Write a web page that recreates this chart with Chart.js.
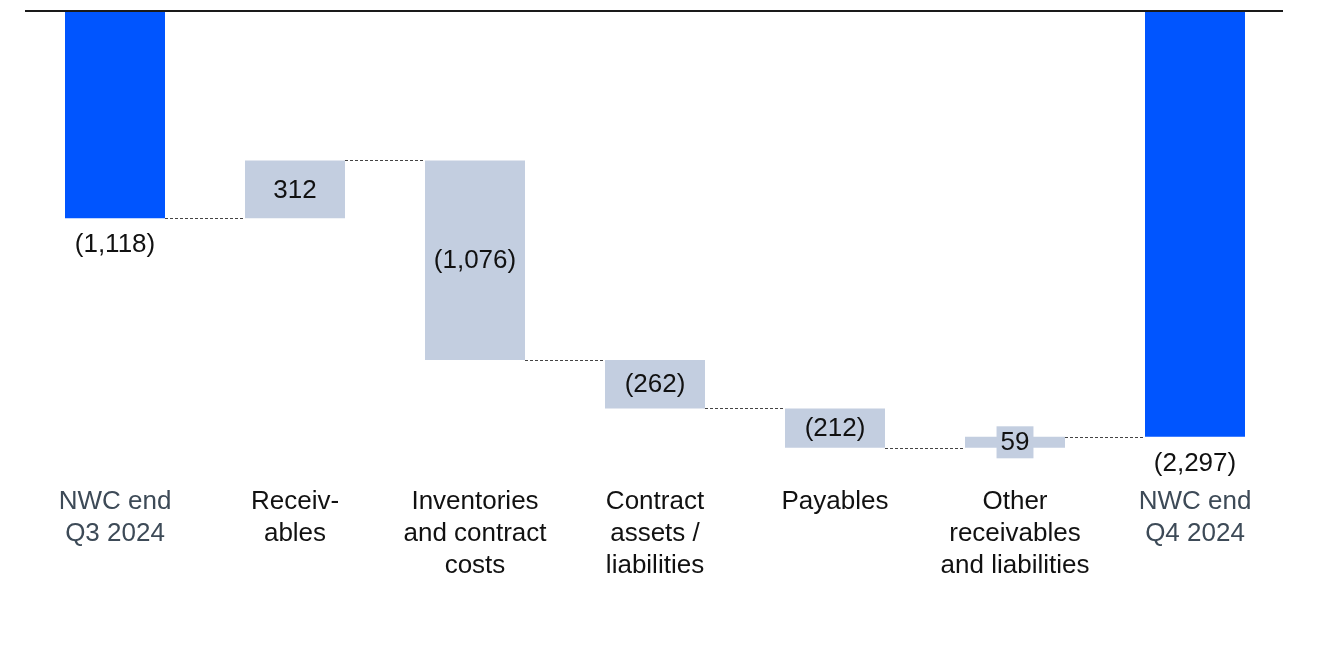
<!DOCTYPE html>
<html><head><meta charset="utf-8">
<script src="https://cdn.jsdelivr.net/npm/chart.js@4.4.1/dist/chart.umd.min.js"></script>
<style>html,body{margin:0;padding:0;background:#fff}#wrap{width:1325px;height:653px;position:relative}</style>
</head><body><div id="wrap"><canvas id="c"></canvas></div>
<script>
const categories = [["NWC end","Q3 2024"],["Receiv-","ables"],["Inventories","and contract","costs"],["Contract","assets /","liabilities"],["Payables"],["Other","receivables","and liabilities"],["NWC end","Q4 2024"]];
const changes = [-1118, 312, -1076, -262, -212, 59, -2297];
const isTotal = [true, false, false, false, false, false, true];
const valueLabels = ["(1,118)", "312", "(1,076)", "(262)", "(212)", "59", "(2,297)"];

const BLUE = '#0055FF', GREY = '#C3CEE0';
const floating = [];
let run = 0;
changes.forEach((v, i) => {
  if (isTotal[i]) { floating.push([0, v]); run = v; }
  else { floating.push([run, run + v]); run += v; }
});

const FONT = "'Liberation Sans', Arial, sans-serif";

const wfPlugin = {
  id: 'wf',
  afterDatasetsDraw(chart) {
    const ctx = chart.ctx, y = chart.scales.y, area = chart.chartArea;
    const meta = chart.getDatasetMeta(0);
    ctx.save();
    // connectors
    ctx.strokeStyle = '#444';
    ctx.lineWidth = 1;
    ctx.setLineDash([3, 2]);
    for (let i = 0; i < meta.data.length - 1; i++) {
      const a = meta.data[i], b = meta.data[i + 1];
      const py = Math.round(y.getPixelForValue(floating[i][1])) + 0.5;
      ctx.beginPath();
      ctx.moveTo(a.x + a.width / 2, py);
      ctx.lineTo(b.x - b.width / 2, py);
      ctx.stroke();
    }
    ctx.setLineDash([]);
    // zero line
    const zy = y.getPixelForValue(0);
    ctx.strokeStyle = '#1a1a1a';
    ctx.lineWidth = 2;
    ctx.beginPath();
    ctx.moveTo(area.left, zy);
    ctx.lineTo(area.right - 2, zy);
    ctx.stroke();
    // labels
    ctx.font = '26px ' + FONT;
    ctx.textAlign = 'center';
    ctx.textBaseline = 'middle';
    meta.data.forEach((bar, i) => {
      const top = y.getPixelForValue(Math.max(...floating[i]));
      const bot = y.getPixelForValue(Math.min(...floating[i]));
      const txt = valueLabels[i];
      if (isTotal[i]) {
        ctx.fillStyle = '#111';
        ctx.fillText(txt, bar.x, bot + 27);
      } else {
        const cy = (top + bot) / 2;
        if (bot - top < 30) {
          const w = ctx.measureText(txt).width + 8;
          ctx.fillStyle = GREY;
          ctx.fillRect(bar.x - w / 2, cy - 16, w, 32);
        }
        ctx.fillStyle = '#111';
        ctx.fillText(txt, bar.x, cy + 1);
      }
    });
    ctx.restore();
  }
};

new Chart(document.getElementById('c'), {
  type: 'bar',
  data: {
    labels: categories,
    datasets: [{
      data: floating,
      backgroundColor: isTotal.map(t => t ? BLUE : GREY),
      borderWidth: 0,
      borderSkipped: false,
      barPercentage: 100 / 180,
      categoryPercentage: 1
    }]
  },
  options: {
    responsive: true,
    maintainAspectRatio: false,
    animation: false,
    layout: { padding: { left: 25, right: 40, top: 11, bottom: 71 } },
    plugins: { legend: { display: false }, tooltip: { enabled: false } },
    scales: {
      x: {
        grid: { display: false },
        border: { display: false },
        ticks: {
          padding: 0,
          maxRotation: 0,
          autoSkip: false,
          font: { family: FONT, size: 26, lineHeight: 32 / 26 },
          color: (c) => isTotal[c.index] ? '#3D4A57' : '#111'
        }
      },
      y: {
        display: false,
        min: -2519,
        max: 0
      }
    }
  },
  plugins: [wfPlugin]
});
</script></body></html>
